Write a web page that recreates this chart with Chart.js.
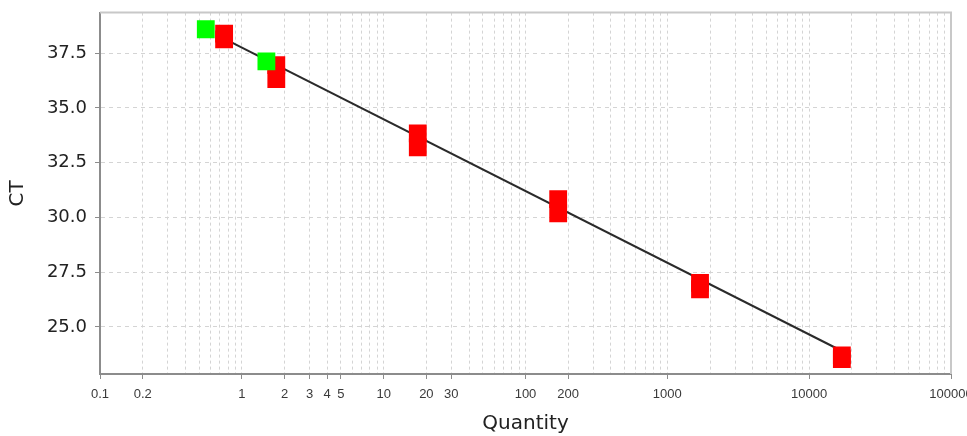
<!DOCTYPE html>
<html>
<head>
<meta charset="utf-8">
<script src="https://cdn.jsdelivr.net/npm/chart.js@4"></script>
<style>
  html, body { margin: 0; padding: 0; background: #fff; overflow: hidden; }
  #wrap { position: absolute; left: 0; top: 0; width: 990px; height: 436px; }
</style>
</head>
<body>
<div id="wrap"><canvas id="c"></canvas></div>
<script>
// ---- data ----
const standardQuantity = [0.75, 0.75, 1.75, 1.75, 17.4, 17.4, 170, 170, 1700, 1700, 17000, 17000];
const standardCt       = [38.39, 38.13, 36.95, 36.31, 33.84, 33.20, 30.83, 30.19, 27.01, 26.72, 23.70, 23.53];
const unknownQuantity  = [0.557, 1.49];
const unknownCt        = [38.59, 37.12];
const fitQuantity      = [0.75, 17000];
const fitCt            = [38.16, 23.90];
const xLabelValues     = [0.1, 0.2, 1, 2, 3, 4, 5, 10, 20, 30, 100, 200, 1000, 10000, 100000];
const yTickValues      = [25.0, 27.5, 30.0, 32.5, 35.0, 37.5];
const xTitle = 'Quantity';
const yTitle = 'CT';

const toPts = (xs, ys) => xs.map((x, i) => ({ x: x, y: ys[i] }));

// minor log grid positions (1..9 per decade)
const xGridValues = [];
for (let e = -1; e <= 4; e++) {
  for (let m = 1; m <= 9; m++) xGridValues.push(+(m * Math.pow(10, e)).toPrecision(6));
}
xGridValues.push(100000);

const isLabeled = v => xLabelValues.some(l => Math.abs(l - v) / l < 1e-6);

const frame = {
  id: 'frame',
  beforeDatasetsDraw(chart) {
    const a = chart.chartArea, ctx = chart.ctx;
    ctx.save();
    ctx.strokeStyle = '#c8c8c8';
    ctx.lineWidth = 2;
    ctx.beginPath();
    ctx.moveTo(a.left, a.top);
    ctx.lineTo(a.right, a.top);
    ctx.lineTo(a.right, a.bottom);
    ctx.stroke();
    ctx.restore();
  }
};

new Chart(document.getElementById('c'), {
  type: 'scatter',
  data: {
    datasets: [
      {
        label: 'Unknown',
        data: toPts(unknownQuantity, unknownCt),
        pointStyle: 'rect',
        pointRadius: 12.6,
        pointBorderWidth: 0,
        backgroundColor: '#00ff00',
        borderColor: '#00ff00',
        order: 0
      },
      {
        label: 'Standard',
        data: toPts(standardQuantity, standardCt),
        pointStyle: 'rect',
        pointRadius: 12.6,
        pointBorderWidth: 0,
        backgroundColor: '#ff0000',
        borderColor: '#ff0000',
        order: 1
      },
      {
        type: 'line',
        label: 'Fit',
        data: toPts(fitQuantity, fitCt),
        borderColor: '#2a2a2a',
        borderWidth: 2,
        pointRadius: 0,
        fill: false,
        order: 2
      }
    ]
  },
  options: {
    responsive: true,
    maintainAspectRatio: false,
    animation: false,
    events: [],
    layout: { padding: { left: 0, top: 11, right: 39, bottom: 0 } },
    plugins: { legend: { display: false }, tooltip: { enabled: false } },
    scales: {
      x: {
        type: 'logarithmic',
        min: 0.1,
        max: 100000,
        afterFit: s => { s.height = 62; s.paddingLeft = 0; s.paddingRight = 0; },
        afterBuildTicks: s => { s.ticks = xGridValues.map(v => ({ value: v })); },
        border: { display: true, color: '#8c8c8c', width: 2, dash: [3, 3] },
        grid: {
          color: '#d4d4d4',
          lineWidth: 1,
          tickLength: 5,
          tickWidth: 1,
          tickColor: ctx => (ctx.tick && isLabeled(ctx.tick.value)) ? '#8c8c8c' : 'rgba(0,0,0,0)'
        },
        ticks: {
          autoSkip: false,
          maxRotation: 0,
          minRotation: 0,
          padding: 8,
          color: '#3a3a3a',
          font: { family: '"Liberation Sans Narrow", "Liberation Sans", sans-serif', size: 13 },
          callback: (v) => isLabeled(v) ? String(v) : ''
        },
        title: {
          display: true,
          text: xTitle,
          color: '#222',
          font: { family: '"DejaVu Sans", sans-serif', size: 20, lineHeight: 1 },
          padding: { top: 0, bottom: 2 }
        }
      },
      y: {
        type: 'linear',
        min: 22.85,
        max: 39.35,
        afterFit: s => { s.width = 100; s.paddingTop = 0; s.paddingBottom = 0; },
        afterBuildTicks: s => { s.ticks = yTickValues.map(v => ({ value: v })); },
        border: { display: true, color: '#8c8c8c', width: 2, dash: [4, 4] },
        grid: {
          color: '#d4d4d4',
          lineWidth: 1,
          tickLength: 5,
          tickColor: '#8c8c8c'
        },
        ticks: {
          padding: 8,
          color: '#222',
          font: { family: '"DejaVu Sans", sans-serif', size: 18 },
          callback: v => Number(v).toFixed(1)
        },
        title: {
          display: true,
          text: yTitle,
          color: '#222',
          font: { family: '"DejaVu Sans", sans-serif', size: 20, lineHeight: 1 },
          padding: { top: 8, bottom: 0 }
        }
      }
    }
  },
  plugins: [frame]
});
</script>
</body>
</html>
